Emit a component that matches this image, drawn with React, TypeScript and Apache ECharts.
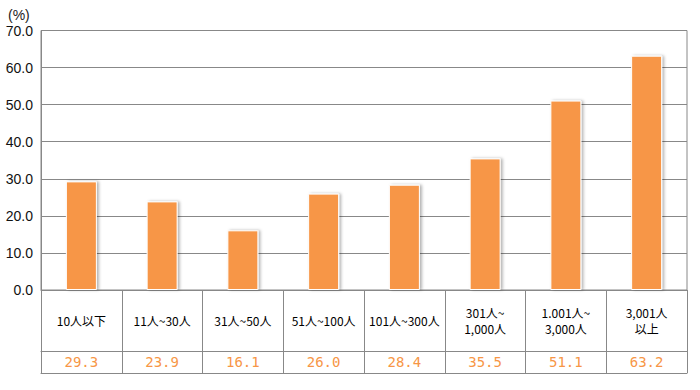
import React, { useEffect, useRef } from "react";
import * as echarts from "echarts";

const categories = [
  "10人以下",
  "11人~30人",
  "31人~50人",
  "51人~100人",
  "101人~300人",
  "301人~\n1,000人",
  "1.001人~\n3,000人",
  "3,001人\n以上",
];
const values = [29.3, 23.9, 16.1, 26.0, 28.4, 35.5, 51.1, 63.2];
const yMin = 0;
const yMax = 70;
const yInterval = 10;
const unitLabel = "(%)";

const LINE = "#888888";
const ORANGE = "#F79646";

export default function App() {
  const ref = useRef<HTMLDivElement>(null);
  useEffect(() => {
    if (!ref.current) return;
    const chart = echarts.init(ref.current, null, { renderer: "svg" });
    chart.setOption({
      animation: false,
      backgroundColor: "#ffffff",
      graphic: [
        {
          type: "text",
          left: 8,
          top: 8,
          style: { text: unitLabel, font: "14px 'Liberation Sans', Arial, sans-serif", fill: "#222" },
        },
      ],
      grid: {
        left: 41,
        right: 13,
        top: 30.5,
        bottom: 100,
        show: true,
        borderColor: LINE,
        borderWidth: 1,
        containLabel: false,
      },
      xAxis: [
        {
          type: "category",
          data: categories,
          position: "bottom",
          axisLine: { show: true, lineStyle: { color: LINE, width: 1 } },
          axisTick: { show: true, interval: 0, length: 83, lineStyle: { color: LINE, width: 1 } },
          axisLabel: {
            interval: 0,
            margin: 30,
            verticalAlign: "middle",
            color: "#000",
            fontSize: 12,
            lineHeight: 16,
            fontFamily: "'Noto Sans CJK JP', sans-serif",
          },
        },
        {
          type: "category",
          data: values.map((v) => v.toFixed(1)),
          position: "bottom",
          offset: 61,
          axisLine: { show: true, lineStyle: { color: LINE, width: 1 } },
          axisTick: { show: false },
          axisLabel: {
            interval: 0,
            margin: 11,
            verticalAlign: "middle",
            color: ORANGE,
            fontSize: 14,
            fontFamily: "'DejaVu Sans Mono', monospace",
          },
        },
        {
          type: "category",
          data: categories,
          position: "bottom",
          offset: 83,
          axisLine: { show: true, lineStyle: { color: LINE, width: 1 } },
          axisTick: { show: false },
          axisLabel: { show: false },
        },
      ],
      yAxis: {
        type: "value",
        min: yMin,
        max: yMax,
        interval: yInterval,
        axisLine: { show: true, lineStyle: { color: LINE } },
        axisTick: { show: false },
        splitLine: { show: true, lineStyle: { color: LINE, width: 1 } },
        axisLabel: {
          margin: 8,
          color: "#111",
          fontSize: 14,
          fontFamily: "'Liberation Sans', Arial, sans-serif",
          formatter: (v: number) => v.toFixed(1),
        },
      },
      series: [
        {
          type: "bar",
          xAxisIndex: 0,
          data: values,
          barWidth: 31,
          itemStyle: {
            color: ORANGE,
            borderColor: "#ffffff",
            borderWidth: 1,
            shadowColor: "rgba(0,0,0,0.3)",
            shadowBlur: 3,
            shadowOffsetX: 2,
            shadowOffsetY: 0,
          },
        },
      ],
    });
    return () => chart.dispose();
  }, []);
  return <div ref={ref} style={{ width: 700, height: 390, position: "absolute", left: 0, top: 0 }} />;
}
